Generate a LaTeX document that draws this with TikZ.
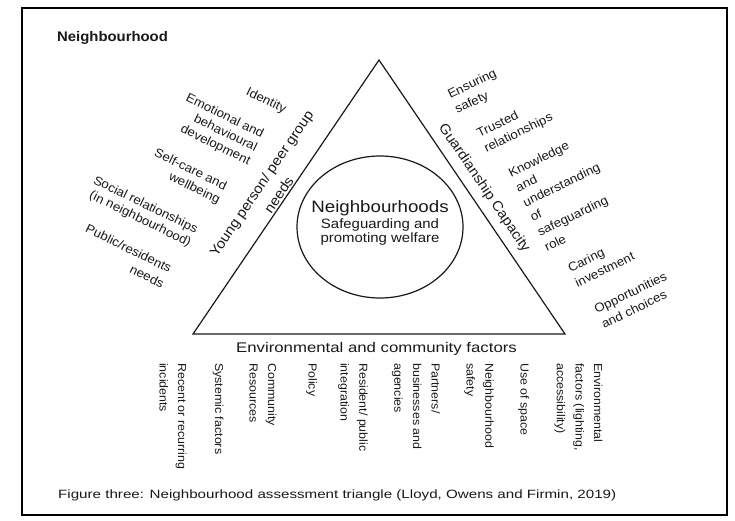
\documentclass[tikz,border=0pt]{standalone}
\usepackage{fontspec}
\setmainfont{Liberation Sans}[FakeStretch=1.07]
\usetikzlibrary{shapes.geometric}
\tikzset{
  txt/.style={inner sep=0pt, text=black!90},
  litem/.style={txt, align=right, rotate=-26, font=\fontsize{12.4}{15}\selectfont},
  ritem/.style={txt, align=left, rotate=26, font=\fontsize{12.4}{16.5}\selectfont},
  bitem/.style={txt, align=left, rotate=-90, anchor=west, font=\fontsize{11.6}{18.7}\selectfont},
  sidetitle/.style={txt, align=center, font=\fontsize{14}{21}\selectfont},
  shapeline/.style={line width=1.2pt, draw=black!90},
}
\begin{document}
\begin{tikzpicture}[x=1pt,y=-1pt]
\useasboundingbox (0,0) rectangle (735,520);
\fill[white] (0,0) rectangle (735,520);
% frame
\draw[line width=1.5pt] (22,8) rectangle (727,515);
% title
\node[txt, anchor=base west, font=\bfseries\fontsize{13.9}{16}\selectfont] (title) at (57,41.5) {Neighbourhood};
% triangle
\coordinate (apex) at (379,60);
\coordinate (bl) at (193,334);
\coordinate (br) at (565,334);
\draw[shapeline, line join=miter] (apex) -- (br) -- (bl) -- cycle;
% central ellipse
\draw[shapeline] (380,227) ellipse [x radius=83, y radius=71];
\node[txt, align=center, font=\fontsize{13.5}{14.5}\selectfont] (hub) at (380,223)
  {\scalebox{1.06}[1]{\fontsize{16.5}{18}\selectfont Neighbourhoods}\\[1.5pt]
   \scalebox{1.035}[1]{Safeguarding and}\\ \scalebox{1.035}[1]{promoting welfare}};
% side titles
\node[sidetitle, rotate=55.8] (young) at (270,189) {Young person/ peer group\\needs};
\node[sidetitle, rotate=-55.8] (guard) at (484,188) {Guardianship Capacity};
\node[txt, anchor=base, font=\fontsize{14}{16}\selectfont] (env) at (376.5,352)
  {\scalebox{1.12}[1]{Environmental and community factors}};
% left items
\node[litem] (identity) at (266,101) {Identity};
\node[litem] (emotional) at (218,130) {Emotional and\\behavioural\\development};
\node[litem] (selfcare) at (187,177) {Self-care and\\wellbeing};
\node[litem] (social) at (142,212) {Social relationships\\(in neighbourhood)};
\node[litem, font=\fontsize{12.4}{17}\selectfont] (public) at (125,256) {Public/residents\\needs};
% right items
\node[ritem] (safety) at (476,92) {Ensuring\\safety};
\node[ritem] (trusted) at (515,126) {Trusted\\relationships};
\node[ritem] (knowledge) at (565,192) {Knowledge\\and\\understanding\\of\\safeguarding\\role};
\node[ritem] (caring) at (601,262) {Caring\\investment};
\node[ritem] (opps) at (634,300) {Opportunities\\and choices};
% bottom items
\node[bitem] (recent) at (173,363) {Recent or recurring\\incidents};
\node[bitem] (systemic) at (218,363) {Systemic factors};
\node[bitem] (community) at (263,363) {Community\\Resources};
\node[bitem] (policy) at (311.5,363) {Policy};
\node[bitem] (resident) at (353,363) {Resident/ public\\integration};
\node[bitem] (partners) at (416,363) {Partners/\\businesses and\\agencies};
\node[bitem] (nsafety) at (479,363) {Neighbourhood\\safety};
\node[bitem] (space) at (523.5,363) {Use of space};
\node[bitem] (envfac) at (578.5,363) {Environmental\\factors (lighting,\\accessibility)};
% caption
\node[txt, anchor=base west, font=\fontsize{12}{14}\selectfont] (caption) at (58,498)
  {\scalebox{1.18}[1]{Figure three: Neighbourhood assessment triangle (Lloyd, Owens and Firmin, 2019)}};
\end{tikzpicture}
\end{document}
